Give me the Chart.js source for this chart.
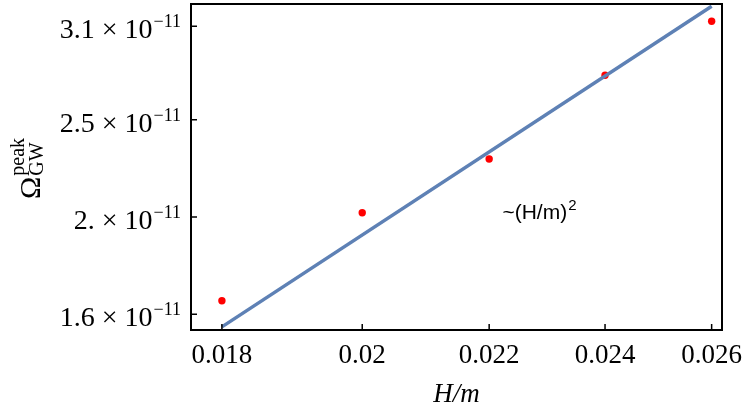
<!DOCTYPE html>
<html lang="en">
<head>
    <meta charset="UTF-8">
    <title>Omega peak vs H/m</title>
    <script src="https://cdn.jsdelivr.net/npm/chart.js"></script>
    <style>
        body { margin: 0; background: #fff; }
    </style>
</head>
<body>
    <canvas id="myChart" width="747" height="417"></canvas>

    <script>
        // data
        const hmValues = [0.018, 0.020, 0.022, 0.024, 0.026];
        const omegaPeak = [1.65e-11, 2.02e-11, 2.285e-11, 2.77e-11, 3.135e-11];
        const fitX = [0.018, 0.026];
        const fitY = [1.554e-11, 3.245e-11];

        const xTicks = [0.018, 0.020, 0.022, 0.024, 0.026];
        const xTickLabels = ['0.018', '0.02', '0.022', '0.024', '0.026'];
        const yTicks = [1.6e-11, 2e-11, 2.5e-11, 3.1e-11];
        const yTickMantissa = ['1.6', '2.', '2.5', '3.1'];

        const xRange = [0.017587, 0.026203];
        const yRange = [1.543e-11, 3.262e-11];

        const serif = '"Liberation Serif", "Times New Roman", serif';

        // frame, inward ticks, y labels with exponents, axis title, annotation
        const framePlugin = {
            id: 'frame',
            afterDraw(chart) {
                const { ctx, chartArea: a, scales: { x, y } } = chart;
                ctx.save();
                ctx.strokeStyle = '#000';
                ctx.lineWidth = 2;
                ctx.strokeRect(a.left, a.top, a.right - a.left, a.bottom - a.top);

                ctx.lineWidth = 1.5;
                ctx.beginPath();
                xTicks.forEach(v => {
                    const px = x.getPixelForValue(v);
                    ctx.moveTo(px, a.bottom);
                    ctx.lineTo(px, a.bottom - 6);
                });
                yTicks.forEach(v => {
                    const py = y.getPixelForValue(v);
                    ctx.moveTo(a.left, py);
                    ctx.lineTo(a.left + 6, py);
                });
                ctx.stroke();

                ctx.fillStyle = '#000';
                ctx.textAlign = 'right';
                ctx.textBaseline = 'alphabetic';
                yTicks.forEach((v, i) => {
                    const py = y.getPixelForValue(v);
                    ctx.font = '18px ' + serif;
                    const exp = '\u221211';
                    const ew = ctx.measureText(exp).width;
                    ctx.fillText(exp, 181, py + 1);
                    ctx.font = '28px ' + serif;
                    ctx.fillText(yTickMantissa[i] + ' \u00d7 10', 181 - ew - 1, py + 12);
                });

                // y title: Omega_GW^peak, rotated
                ctx.save();
                ctx.translate(40, 199);
                ctx.rotate(-Math.PI / 2);
                ctx.textAlign = 'left';
                ctx.font = '30px ' + serif;
                ctx.fillText('\u03a9', 0, 0);
                const ow = ctx.measureText('\u03a9').width;
                ctx.font = '20px ' + serif;
                ctx.fillText('GW', ow + 1, 3);
                ctx.fillText('peak', ow + 1, -16);
                ctx.restore();

                // annotation
                const ax = x.getPixelForValue(0.02222);
                const ay = y.getPixelForValue(1.99e-11);
                ctx.textAlign = 'left';
                ctx.font = '21px "Liberation Sans", Arial, sans-serif';
                const txt = '~(H/m)';
                ctx.fillText(txt, ax, ay);
                const tw = ctx.measureText(txt).width;
                ctx.font = '15px "Liberation Sans", Arial, sans-serif';
                ctx.fillText('2', ax + tw + 1, ay - 9);
                ctx.restore();
            }
        };

        const ctx = document.getElementById('myChart').getContext('2d');
        const chart = new Chart(ctx, {
            type: 'scatter',
            data: {
                datasets: [
                    {
                        type: 'line',
                        data: fitX.map((v, i) => ({ x: v, y: fitY[i] })),
                        borderColor: '#5e81b5',
                        borderWidth: 3.5,
                        pointRadius: 0,
                        fill: false
                    },
                    {
                        data: hmValues.map((v, i) => ({ x: v, y: omegaPeak[i] })),
                        backgroundColor: '#ff0000',
                        borderWidth: 0,
                        pointRadius: 3.7
                    }
                ]
            },
            options: {
                responsive: false,
                animation: false,
                layout: { padding: { left: 0, right: 25, top: 1, bottom: 0 } },
                plugins: {
                    legend: { display: false },
                    tooltip: { enabled: false }
                },
                scales: {
                    x: {
                        type: 'logarithmic',
                        bounds: 'data',
                        min: xRange[0],
                        max: xRange[1],
                        grid: { display: false },
                        border: { display: false },
                        afterBuildTicks: s => { s.ticks = xTicks.map(v => ({ value: v })); },
                        afterFit: s => { s.height = 87; },
                        ticks: {
                            color: '#000',
                            font: { family: serif, size: 27 },
                            padding: 2,
                            maxRotation: 0,
                            autoSkip: false,
                            callback: (value, index) => xTickLabels[index]
                        },
                        title: {
                            display: true,
                            text: 'H/m',
                            color: '#000',
                            font: { family: serif, size: 27, style: 'italic' },
                            padding: { top: 0, bottom: 6 }
                        }
                    },
                    y: {
                        type: 'logarithmic',
                        bounds: 'data',
                        min: yRange[0],
                        max: yRange[1],
                        grid: { display: false },
                        border: { display: false },
                        ticks: { display: false },
                        afterFit: s => { s.width = 191; }
                    }
                }
            },
            plugins: [framePlugin]
        });
    </script>
</body>
</html>
